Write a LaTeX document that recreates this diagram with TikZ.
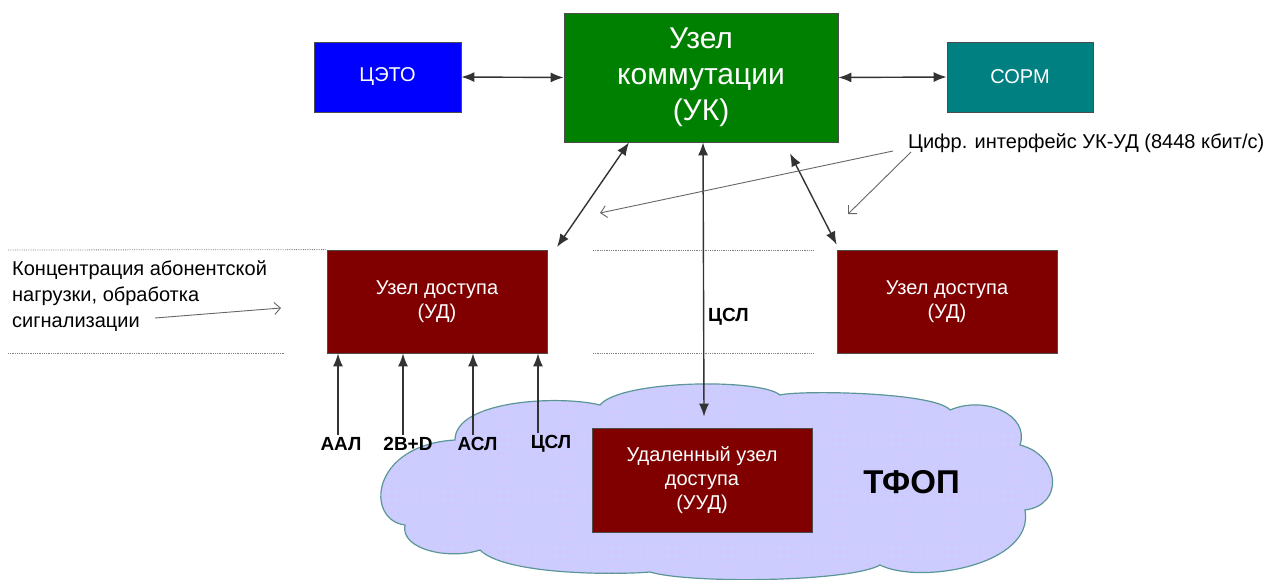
\documentclass[tikz,border=0pt]{standalone}
\usepackage{fontspec}
\setmainfont{Liberation Sans}
\usetikzlibrary{arrows.meta,patterns.meta}
\definecolor{cetoblue}{RGB}{0,0,255}
\definecolor{ukgreen}{RGB}{0,128,0}
\definecolor{sormteal}{RGB}{0,128,128}
\definecolor{udred}{RGB}{128,0,0}
\definecolor{cloudfill}{RGB}{204,204,255}
\definecolor{clouddot}{RGB}{235,175,225}
\definecolor{cloudline}{RGB}{90,150,150}

\begin{document}
\begin{tikzpicture}[x=1pt, y=-1pt,
    my box/.style={draw=black!70, line width=0.8pt, text=white, align=center, inner sep=0pt,
        font=\fontsize{20}{24}\selectfont},
    big arrow/.style={draw=black!80, line width=1.4pt,
        {Latex[length=13pt,width=10pt]}-{Latex[length=13pt,width=10pt]}},
    up arrow/.style={draw=black!80, line width=1.4pt, -{Latex[length=13pt,width=10pt]}},
    note arrow/.style={draw=black!60, line width=0.9pt, -{Straight Barb[length=6pt,width=12pt]}},
    sep line/.style={draw=black!50, line width=0.8pt, densely dotted},
    lbl/.style={font=\bfseries\fontsize{19}{22}\selectfont, inner sep=2pt}]

\useasboundingbox (0,0) rectangle (1276,580);

% ТФОП cloud
\path[draw=cloudline, fill=cloudfill, line width=1.2pt,
      postaction={pattern={Dots[distance=7pt,radius=0.6pt]}, pattern color=clouddot}]
  (405,525) .. controls (365,520) and (370,445) .. (455,440)
  .. controls (455,400) and (560,395) .. (600,405)
  .. controls (620,380) and (760,378) .. (780,395)
  .. controls (800,390) and (935,392) .. (950,410)
  .. controls (985,395) and (1030,415) .. (1020,445)
  .. controls (1060,455) and (1065,505) .. (1025,510)
  .. controls (1035,565) and (920,585) .. (880,565)
  .. controls (850,582) and (690,584) .. (650,572)
  .. controls (615,575) and (505,575) .. (480,550)
  .. controls (450,560) and (400,550) .. (405,525) -- cycle;

\node[my box, fill=cetoblue, minimum width=147pt, minimum height=70pt] (ceto) at (387.5,77) {ЦЭТО};
\node[my box, fill=ukgreen, minimum width=274pt, minimum height=129pt,
      font=\fontsize{30}{36}\selectfont] (uk) at (701,77.5) {Узел\\коммутации\\(УК)};
\node[my box, fill=sormteal, minimum width=146pt, minimum height=70pt] (sorm) at (1020,77) {СОРМ};
\node[my box, fill=udred, minimum width=220pt, minimum height=103pt] (udl) at (437,301.5) {Узел доступа\\(УД)};
\node[my box, fill=udred, minimum width=220pt, minimum height=103pt] (udr) at (947,301.5) {Узел доступа\\(УД)};
\node[my box, fill=udred, minimum width=220pt, minimum height=104pt] (uud) at (702,480) {Удаленный узел\\доступа\\(УУД)};

\node[font=\bfseries\fontsize{33}{36}\selectfont] (tfop) at (911.5,482) {ТФОП};

% separators
\draw[sep line] (8,250) -- (udl.north west);
\draw[sep line] (8,353) -- (285,353);
\draw[sep line] (593,250) -- (813,250);
\draw[sep line] (593,353) -- (813,353);

% links of УК
\draw[big arrow] (ceto.east) -- (uk.west);
\draw[big arrow] (uk.east) -- (sorm.west);
\coordinate (udl top) at (557,247);
\draw[big arrow] ([xshift=-72pt]uk.south) -- (udl top);
\draw[big arrow] ([xshift=2pt]uk.south) -- ([xshift=2pt,yshift=11pt]uud.north);
\draw[big arrow] ([xshift=89pt,yshift=-11pt]uk.south) -- ([yshift=5pt]udr.north west);
\node[lbl, anchor=west] (cslmid) at (706,317) {ЦСЛ};

% subscriber lines
\foreach \n/\t/\x/\d in {aal/ААЛ/341/-3, isdn/2B+D/408/-5, asl/АСЛ/477.5/-4.5, csl/ЦСЛ/551/-13}{
  \node[lbl] (\n) at (\x,444) {\t};
  \draw[up arrow] ([xshift=\d pt]\n.north) -- ([xshift=\d pt]\n.north |- udl.south);
}

% notes
\node[anchor=west, align=left, inner sep=0pt, font=\fontsize{20}{26}\selectfont] (conc) at (12,296)
  {Концентрация абонентской\\нагрузки, обработка\\сигнализации};
\coordinate (conc tail) at (155,318);
\coordinate (conc head) at (281,308);
\draw[note arrow] (conc tail) -- (conc head);

\node[anchor=base west, inner sep=0pt, font=\fontsize{20}{24}\selectfont] (cif) at (908,149)
  {Цифр. интерфейс УК-УД (8448 кбит/с)};
\coordinate (cif a) at (600,213);
\coordinate (cif b) at (848,214);
\draw[note arrow] ([xshift=-15pt,yshift=-2pt]cif.base west) -- (cif a);
\draw[note arrow] ([xshift=3pt,yshift=-3pt]cif.base west) -- (cif b);
\end{tikzpicture}
\end{document}
